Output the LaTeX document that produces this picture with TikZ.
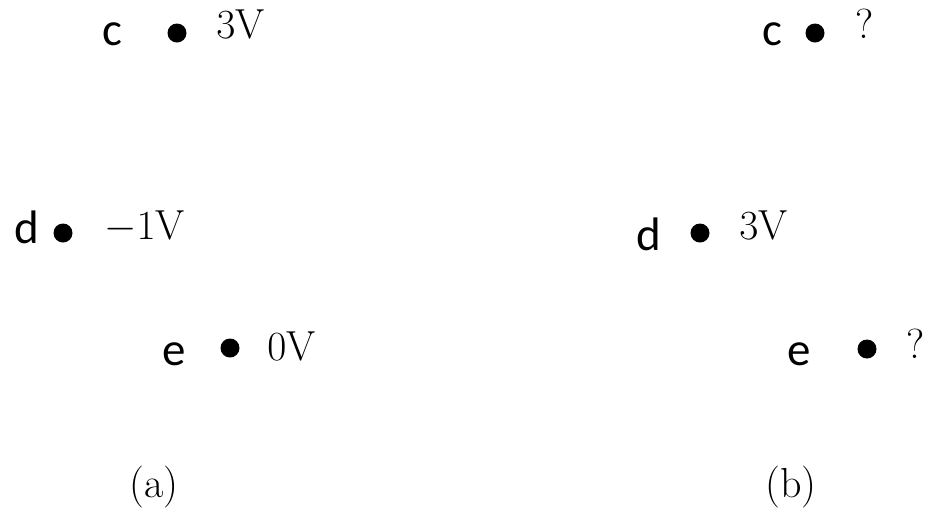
\documentclass[tikz,border=0pt]{standalone}
\usepackage{fontspec}
\newfontfamily\lblfont{Carlito}
\begin{document}
\begin{tikzpicture}[x=0.5pt,y=-0.5pt,
  pt/.style={circle,fill=black,inner sep=0pt,minimum size=9.5pt},
  letter/.style={anchor=base west,inner sep=0pt,font=\fontsize{23.5}{23.5}\lblfont},
  volt/.style={anchor=base west,inner sep=0pt,font=\fontsize{21}{21}\selectfont},
  capt/.style={inner sep=0pt,font=\fontsize{21}{21}\selectfont}]
  \useasboundingbox (0,0) rectangle (928,511);
  % (a)
  \node[letter] (ca) at (102,45) {c};
  \node[pt] (pca) at (177,33) {};
  \node[volt] (vca) at (216,38) {$3\mathrm{V}$};
  \node[letter] (da) at (14,243) {d};
  \node[pt] (pda) at (63,233) {};
  \node[volt] (vda) at (104,239) {$-1\mathrm{V}$};
  \node[letter] (ea) at (162,365) {e};
  \node[pt] (pea) at (230,348) {};
  \node[volt] (vea) at (267,360) {$0\mathrm{V}$};
  \node[capt] (la) at (154,487) {(a)};
  % (b)
  \node[letter] (cb) at (762,45) {c};
  \node[pt] (pcb) at (815,33) {};
  \node[volt] (vcb) at (855,38) {?};
  \node[letter] (db) at (636,250) {d};
  \node[pt] (pdb) at (700,233) {};
  \node[volt] (vdb) at (739,239) {$3\mathrm{V}$};
  \node[letter] (eb) at (787,365) {e};
  \node[pt] (peb) at (867,349) {};
  \node[volt] (veb) at (906,358) {?};
  \node[capt] (lb) at (791,487) {(b)};
\end{tikzpicture}
\end{document}
